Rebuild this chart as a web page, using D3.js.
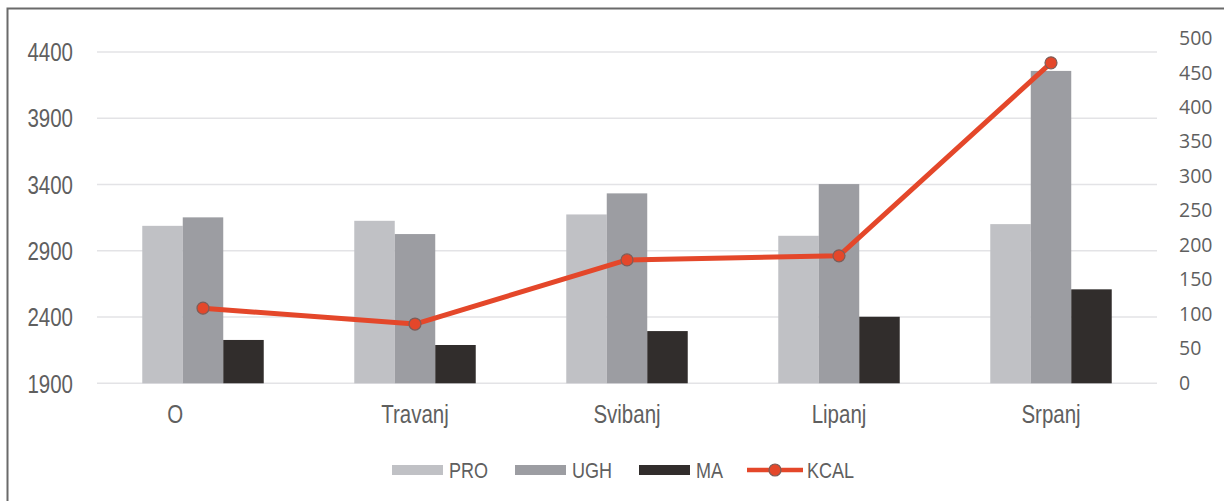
<!DOCTYPE html>
<html>
<head>
<meta charset="utf-8">
<script src="https://cdn.jsdelivr.net/npm/d3@7"></script>
<style>
  html, body { margin: 0; padding: 0; background: #fff; }
  svg { display: block; }
</style>
</head>
<body>
<svg id="chart" width="1224" height="501"></svg>
<script>
// Monthly intake: macronutrients (left axis) and energy (right axis)
const months = ["O", "Travanj", "Svibanj", "Lipanj", "Srpanj"];
const pro  = [3088, 3126, 3174, 3013, 3101];
const ugh  = [3152, 3026, 3333, 3403, 4257];
const ma   = [2227, 2189, 2294, 2402, 2609];
const kcal = [109, 86, 179, 185, 465];

const leftTicks  = [1900, 2400, 2900, 3400, 3900, 4400];
const rightTicks = [0, 50, 100, 150, 200, 250, 300, 350, 400, 450, 500];

const seriesNames = ["PRO", "UGH", "MA"];
const seriesData  = [pro, ugh, ma];
const seriesColors = ["#c0c1c5", "#9c9da2", "#312d2c"];
const lineColor = "#e4472a";

const svg = d3.select("#chart");
const plot = { left: 97, right: 1157, top: 38.7, bottom: 383.3 };

// condensed look for the sans labels
const narrow = "scale(0.82,1)";
const axisFont = "'Liberation Sans', Arial, sans-serif";
const textColor = "#5f5f5f";

// outer frame
svg.append("rect")
  .attr("x", 7.5).attr("y", 8.5)
  .attr("width", 1240).attr("height", 520)
  .attr("fill", "none").attr("stroke", "#6a6a6a").attr("stroke-width", 2);

const x = d3.scaleBand()
  .domain(months)
  .range([plot.left, plot.right])
  .paddingInner(0.427)
  .paddingOuter(0.2135);

const xSub = d3.scaleBand()
  .domain(seriesNames)
  .range([0, x.bandwidth()]);

const yL = d3.scaleLinear().domain([1900, 4500]).range([plot.bottom, plot.top]);
const yR = d3.scaleLinear().domain([0, 500]).range([plot.bottom, plot.top]);

// gridlines
svg.append("g")
  .selectAll("line")
  .data(leftTicks)
  .join("line")
  .attr("x1", plot.left).attr("x2", plot.right)
  .attr("y1", d => yL(d)).attr("y2", d => yL(d))
  .attr("stroke", "#e3e3e6").attr("stroke-width", 1.6);

// left axis
const gL = svg.append("g")
  .attr("transform", `translate(${plot.left - 24},0)`)
  .call(d3.axisLeft(yL).tickValues(leftTicks).tickFormat(d3.format("d")).tickSize(0).tickPadding(0));
gL.select(".domain").remove();
gL.selectAll("text")
  .attr("font-family", axisFont)
  .attr("font-size", 25)
  .attr("fill", textColor)
  .attr("dy", "0.35em")
  .attr("transform", narrow);

// right axis
const gR = svg.append("g")
  .attr("transform", `translate(${plot.right + 22},0)`)
  .call(d3.axisRight(yR).tickValues(rightTicks).tickFormat(d3.format("d")).tickSize(0).tickPadding(0));
gR.select(".domain").remove();
gR.selectAll("text")
  .attr("font-family", "'Open Sans', sans-serif")
  .attr("font-size", 19.5)
  .attr("fill", textColor)
  .attr("dy", "0.3em");

// category axis
const gX = svg.append("g")
  .attr("transform", `translate(0,${plot.bottom + 22})`)
  .call(d3.axisBottom(x).tickSize(0).tickPadding(0));
gX.select(".domain").remove();
gX.selectAll("text")
  .attr("font-family", axisFont)
  .attr("font-size", 25)
  .attr("fill", textColor)
  .attr("dy", "0.71em")
  .attr("dx", (d, i) => i === 0 ? -34 : 0)
  .attr("transform", narrow);

// bars
const groups = svg.append("g")
  .selectAll("g")
  .data(months)
  .join("g")
  .attr("transform", d => `translate(${x(d)},0)`);

groups.selectAll("rect")
  .data((m, i) => seriesNames.map((s, k) => ({ s, v: seriesData[k][i], c: seriesColors[k] })))
  .join("rect")
  .attr("x", d => xSub(d.s))
  .attr("width", xSub.bandwidth())
  .attr("y", d => yL(d.v))
  .attr("height", d => plot.bottom - yL(d.v))
  .attr("fill", d => d.c);

// energy line
const pts = months.map((m, i) => [x(m) + x.bandwidth() / 2, yR(kcal[i])]);
svg.append("path")
  .attr("d", d3.line()(pts))
  .attr("fill", "none")
  .attr("stroke", lineColor)
  .attr("stroke-width", 5)
  .attr("stroke-linejoin", "round");

svg.append("g")
  .selectAll("circle")
  .data(pts)
  .join("circle")
  .attr("cx", d => d[0]).attr("cy", d => d[1])
  .attr("r", 6)
  .attr("fill", lineColor)
  .attr("stroke", "#7d5d58").attr("stroke-width", 1.2);

// legend
const legendY = 470;
const legendItems = [
  { name: "PRO", x: 392, type: "bar", c: seriesColors[0] },
  { name: "UGH", x: 515, type: "bar", c: seriesColors[1] },
  { name: "MA",  x: 639, type: "bar", c: seriesColors[2] },
  { name: "KCAL", x: 747, type: "line", c: lineColor }
];
const lg = svg.append("g");
legendItems.forEach(it => {
  if (it.type === "bar") {
    lg.append("rect")
      .attr("x", it.x).attr("y", legendY - 5)
      .attr("width", 51).attr("height", 10)
      .attr("fill", it.c);
  } else {
    lg.append("line")
      .attr("x1", it.x).attr("x2", it.x + 56)
      .attr("y1", legendY).attr("y2", legendY)
      .attr("stroke", it.c).attr("stroke-width", 4.5);
    lg.append("circle")
      .attr("cx", it.x + 28).attr("cy", legendY).attr("r", 6)
      .attr("fill", it.c).attr("stroke", "#7d5d58").attr("stroke-width", 1.2);
  }
  lg.append("g")
    .attr("transform", `translate(${it.x + (it.type === "bar" ? 57 : 60)},${legendY})`)
    .append("text")
    .attr("dy", "0.36em")
    .attr("transform", narrow)
    .attr("font-family", axisFont)
    .attr("font-size", 22)
    .attr("fill", textColor)
    .text(it.name);
});
</script>
</body>
</html>
